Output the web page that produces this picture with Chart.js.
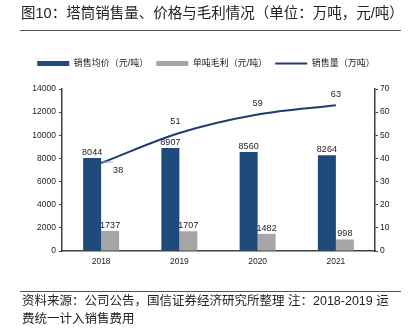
<!DOCTYPE html>
<html>
<head>
<meta charset="utf-8">
<script src="https://cdn.jsdelivr.net/npm/chart.js@4"></script>
<style>
  html, body { margin: 0; padding: 0; background: #fff; }
  body { width: 412px; height: 333px; position: relative; overflow: hidden;
         font-family: "Liberation Sans", "Noto Sans CJK SC", sans-serif; color: #222; }
  #wrap { position: absolute; left: 0; top: 0; width: 412px; height: 333px; }
  .title { position: absolute; left: 21px; top: 4px; font-size: 14.5px; line-height: 18px; white-space: nowrap; }
  .rule { position: absolute; left: 20px; width: 381px; height: 1px; background: #555; }
  .foot { position: absolute; left: 22px; top: 292px; font-size: 12.5px; line-height: 18px; white-space: nowrap; }
</style>
</head>
<body>
<div id="wrap"><canvas id="chart"></canvas></div>
<div class="title">图10：塔筒销售量、价格与毛利情况（单位：万吨，元/吨）</div>
<div class="rule" style="top:30px"></div>
<div class="rule" style="top:291px"></div>
<div class="foot">资料来源：公司公告，国信证券经济研究所整理 注：2018-2019 运<br>费统一计入销售费用</div>
<script>
const years = ["2018", "2019", "2020", "2021"];
const avgPrice = [8044, 8907, 8560, 8264];      // 销售均价（元/吨）
const grossPerTon = [1737, 1707, 1482, 998];    // 单吨毛利（元/吨）
const salesVolume = [38, 51, 59, 63];           // 销售量（万吨）
const leftTicks = [0, 2000, 4000, 6000, 8000, 10000, 12000, 14000];
const rightTicks = [0, 10, 20, 30, 40, 50, 60, 70];

const fontFamily = '"Liberation Sans", "Noto Sans CJK SC", sans-serif';
const axisColor = "#404040";

// extra gap between legend and plot
const legendSpace = {
  id: "legendSpace",
  beforeInit(chart) {
    const fit = chart.legend.fit;
    chart.legend.fit = function () {
      fit.bind(chart.legend)();
      this.height += 11;
    };
  },
};

// value labels on bars and line
const valueLabels = {
  id: "valueLabels",
  afterDatasetsDraw(chart) {
    const ctx = chart.ctx;
    ctx.save();
    ctx.font = "9px " + fontFamily;
    ctx.fillStyle = "#222";
    ctx.textAlign = "center";
    chart.data.datasets.forEach((ds, i) => {
      const meta = chart.getDatasetMeta(i);
      meta.data.forEach((el, j) => {
        const v = ds.data[j];
        if (ds.type === "line") {
          if (j === 0) {
            ctx.strokeStyle = "#a6a6a6";
            ctx.lineWidth = 1;
            ctx.beginPath();
            ctx.moveTo(el.x + 1, el.y - 1);
            ctx.lineTo(el.x + 12, el.y - 1);
            ctx.stroke();
            ctx.textBaseline = "middle";
            ctx.fillText(v, el.x + 17, el.y + 7);
          } else {
            ctx.textBaseline = "middle";
            ctx.fillText(v, el.x - (j === 1 ? 4 : 0), el.y - 11);
          }
        } else {
          ctx.textBaseline = "bottom";
          ctx.fillText(v, el.x, el.y - 1);
        }
      });
    });
    ctx.restore();
  },
};

const plainTick = (v) => String(v);

new Chart(document.getElementById("chart"), {
  data: {
    labels: years,
    datasets: [
      {
        type: "line",
        label: "销售量（万吨）",
        data: salesVolume,
        yAxisID: "y1",
        borderColor: "#1f3d6e",
        backgroundColor: "#1f3d6e",
        borderWidth: 2,
        pointRadius: 0,
        tension: 0.4,
        cubicInterpolationMode: "monotone",
        order: 0,
      },
      {
        type: "bar",
        label: "销售均价（元/吨）",
        data: avgPrice,
        yAxisID: "y",
        backgroundColor: "#1f4a7c",
        categoryPercentage: 0.46,
        barPercentage: 1,
        order: 1,
      },
      {
        type: "bar",
        label: "单吨毛利（元/吨）",
        data: grossPerTon,
        yAxisID: "y",
        backgroundColor: "#a6a6a6",
        categoryPercentage: 0.46,
        barPercentage: 1,
        order: 1,
      },
    ],
  },
  options: {
    responsive: true,
    maintainAspectRatio: false,
    animation: false,
    layout: { padding: { top: 51, left: 0, right: 0, bottom: 0 } },
    plugins: {
      legend: {
        position: "top",
        labels: {
          font: { size: 9, family: fontFamily },
          color: "#222",
          usePointStyle: true,
          pointStyleWidth: 32,
          boxHeight: 5,
          padding: 8,
          sort: (a, b) => [1, 2, 0].indexOf(a.datasetIndex) - [1, 2, 0].indexOf(b.datasetIndex),
          generateLabels(chart) {
            return chart.data.datasets.map((ds, i) => ({
              text: ds.label,
              datasetIndex: i,
              fillStyle: ds.backgroundColor,
              strokeStyle: ds.type === "line" ? ds.borderColor : ds.backgroundColor,
              lineWidth: ds.type === "line" ? 2 : 0,
              pointStyle: ds.type === "line" ? "line" : "rect",
              fontColor: "#222",
            }));
          },
        },
      },
      tooltip: { enabled: false },
    },
    scales: {
      x: {
        grid: { display: false, drawTicks: false },
        border: { display: true, color: axisColor, width: 1.5 },
        ticks: { font: { size: 8.5, family: fontFamily }, color: "#222", padding: 6 },
        afterFit(scale) { scale.height = 82; },
      },
      y: {
        position: "left",
        min: leftTicks[0],
        max: leftTicks[leftTicks.length - 1],
        afterBuildTicks(scale) { scale.ticks = leftTicks.map((v) => ({ value: v })); },
        grid: { drawOnChartArea: false, drawTicks: true, tickLength: 3, color: axisColor },
        border: { display: true, color: axisColor, width: 1.5 },
        ticks: { font: { size: 8.5, family: fontFamily }, color: "#222", padding: 3, callback: plainTick },
        afterFit(scale) { scale.width = 62; },
      },
      y1: {
        position: "right",
        min: rightTicks[0],
        max: rightTicks[rightTicks.length - 1],
        afterBuildTicks(scale) { scale.ticks = rightTicks.map((v) => ({ value: v })); },
        grid: { drawOnChartArea: false, drawTicks: true, tickLength: 3, color: axisColor },
        border: { display: true, color: axisColor, width: 1.5 },
        ticks: { font: { size: 8.5, family: fontFamily }, color: "#222", padding: 2, callback: plainTick },
        afterFit(scale) { scale.width = 37; },
      },
    },
  },
  plugins: [legendSpace, valueLabels],
});
</script>
</body>
</html>
